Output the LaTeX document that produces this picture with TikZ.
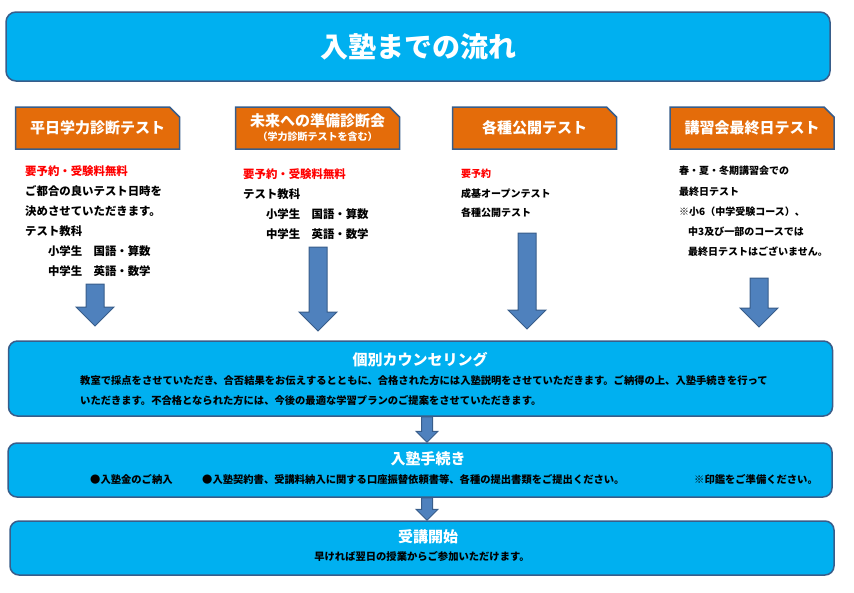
\documentclass[tikz,border=0pt]{standalone}
\usepackage{fontspec}
\setmainfont{Noto Sans CJK JP}
\usepackage{tikz}
\usetikzlibrary{shapes.misc,calc}

\definecolor{skyfill}{HTML}{00B0F0}
\definecolor{navyline}{HTML}{385D8A}
\definecolor{orangefill}{HTML}{E46C0A}
\definecolor{arrowfill}{HTML}{4F81BD}
\definecolor{notered}{HTML}{FF0000}

% block arrow: top, tip, shaft half width, head half width, head length
\newcommand\blockarrow[5]{%
  \draw[arrowshape] ([xshift=-#3pt]#1) -- ([xshift=#3pt]#1)
    -- ([xshift=#3pt,yshift=#5pt]#2) -- ([xshift=#4pt,yshift=#5pt]#2) -- (#2)
    -- ([xshift=-#4pt,yshift=#5pt]#2) -- ([xshift=-#3pt,yshift=#5pt]#2) -- cycle;}

\begin{document}
\begin{tikzpicture}[
    x=1pt, y=-1pt,
    mainbox/.style={rectangle, draw=navyline, line width=1.5pt, fill=skyfill, rounded corners=9pt, minimum width=824pt},
    headbox/.style={chamfered rectangle, chamfered rectangle corners=north east, chamfered rectangle xsep=5pt, chamfered rectangle ysep=5pt, draw=navyline, line width=1.5pt, fill=orangefill, minimum width=164pt, minimum height=42pt, inner sep=0pt, align=center, text=white, font=\fontsize{15}{17}\selectfont\bfseries},
    boxtitle/.style={text=white, inner sep=0pt, font=\fontsize{15}{17}\selectfont\bfseries},
    boxbody/.style={inner sep=0pt, align=left, font=\fontsize{10.3}{20}\selectfont\bfseries},
    coltext/.style={anchor=north west, inner sep=0pt, align=left, font=\fontsize{11.4}{20}\selectfont\bfseries},
    arrowshape/.style={draw=navyline, line width=1pt, fill=arrowfill}
]
\useasboundingbox (0,0) rectangle (854,592);

% title
\node[mainbox, minimum height=69pt, rounded corners=10pt] (title) at (418,46.5) {};
\node[boxtitle, font=\fontsize{28}{30}\selectfont\bfseries] (titletext) at (title.center) {入塾までの流れ};

% four entrance tests
\node[headbox] (weekday) at (97.5,128) {平日学力診断テスト};
\node[headbox] (future) at (317.5,128) {未来への準備診断会\\[-3pt]{\fontsize{10}{12}\selectfont （学力診断テストを含む）}};
\node[headbox] (public) at (534.5,128) {各種公開テスト};
\node[headbox] (seasonal) at (752,128) {講習会最終日テスト};

\node[coltext] (weekdaytext) at (25,165) {\textcolor{notered}{要予約・受験料無料}\\
  ご都合の良いテスト日時を\\
  決めさせていただきます。\\
  テスト教科\\
  \hspace*{2em}小学生　国語・算数\\
  \hspace*{2em}中学生　英語・数学};
\node[coltext] (futuretext) at (243,168) {\textcolor{notered}{要予約・受験料無料}\\
  テスト教科\\
  \hspace*{2em}小学生　国語・算数\\
  \hspace*{2em}中学生　英語・数学};
\node[coltext, font=\fontsize{10}{19.5}\selectfont\bfseries] (publictext) at (461,169) {\textcolor{notered}{要予約}\\
  成基オープンテスト\\
  各種公開テスト};
\node[coltext, font=\fontsize{10}{20.2}\selectfont\bfseries] (seasonaltext) at (679,166) {春・夏・冬期講習会での\\
  最終日テスト\\
  ※小6（中学受験コース）、\\
  \hspace*{9pt}中3及び一部のコースでは\\
  \hspace*{9pt}最終日テストはございません。};

% flow boxes
\node[mainbox, minimum height=75pt] (counsel) at (420.5,378.5) {};
\node[boxtitle] (counseltitle) at (420,360) {個別カウンセリング};
\node[boxbody, anchor=west] (counselbody) at (80,391) {教室で採点をさせていただき、合否結果をお伝えするとともに、合格された方には入塾説明をさせていただきます。ご納得の上、入塾手続きを行って\\
  いただきます。不合格となられた方には、今後の最適な学習プランのご提案をさせていただきます。};

\node[mainbox, minimum height=54pt] (enroll) at (420,470) {};
\node[boxtitle] (enrolltitle) at (428,459) {入塾手続き};
\node[boxbody, anchor=west] (enrollfee) at (90,479) {●入塾金のご納入};
\node[boxbody, anchor=west] (enrolldocs) at (202,479) {●入塾契約書、受講料納入に関する口座振替依頼書等、各種の提出書類をご提出ください。};
\node[boxbody, anchor=west] (enrollseal) at (694,479) {※印鑑をご準備ください。};

\node[mainbox, minimum height=54pt] (start) at (422,548) {};
\node[boxtitle] (starttitle) at (428,537) {受講開始};
\node[boxbody] (startbody) at (422,556) {早ければ翌日の授業からご参加いただけます。};

% arrows
\coordinate (a1top) at (95,284);  \coordinate (a1tip) at (95,326);
\coordinate (a2top) at (318,247); \coordinate (a2tip) at (318,331);
\coordinate (a3top) at (527,233); \coordinate (a3tip) at (527,329);
\coordinate (a4top) at (759,278); \coordinate (a4tip) at (759,327);
\blockarrow{a1top}{a1tip}{9}{19}{19}
\blockarrow{a2top}{a2tip}{9}{19}{19}
\blockarrow{a3top}{a3tip}{9}{19}{19}
\blockarrow{a4top}{a4tip}{9}{19}{19}

\coordinate (s1top) at ($(counsel.south)+(6.5,0)$);
\coordinate (s1tip) at ($(enroll.north)+(7,0)$);
\coordinate (s2top) at ($(enroll.south)+(7,0)$);
\coordinate (s2tip) at ($(start.north)+(5,0)$);
\blockarrow{s1top}{s1tip}{5.5}{11}{11}
\blockarrow{s2top}{s2tip}{5.5}{11}{11}

\end{tikzpicture}
\end{document}
